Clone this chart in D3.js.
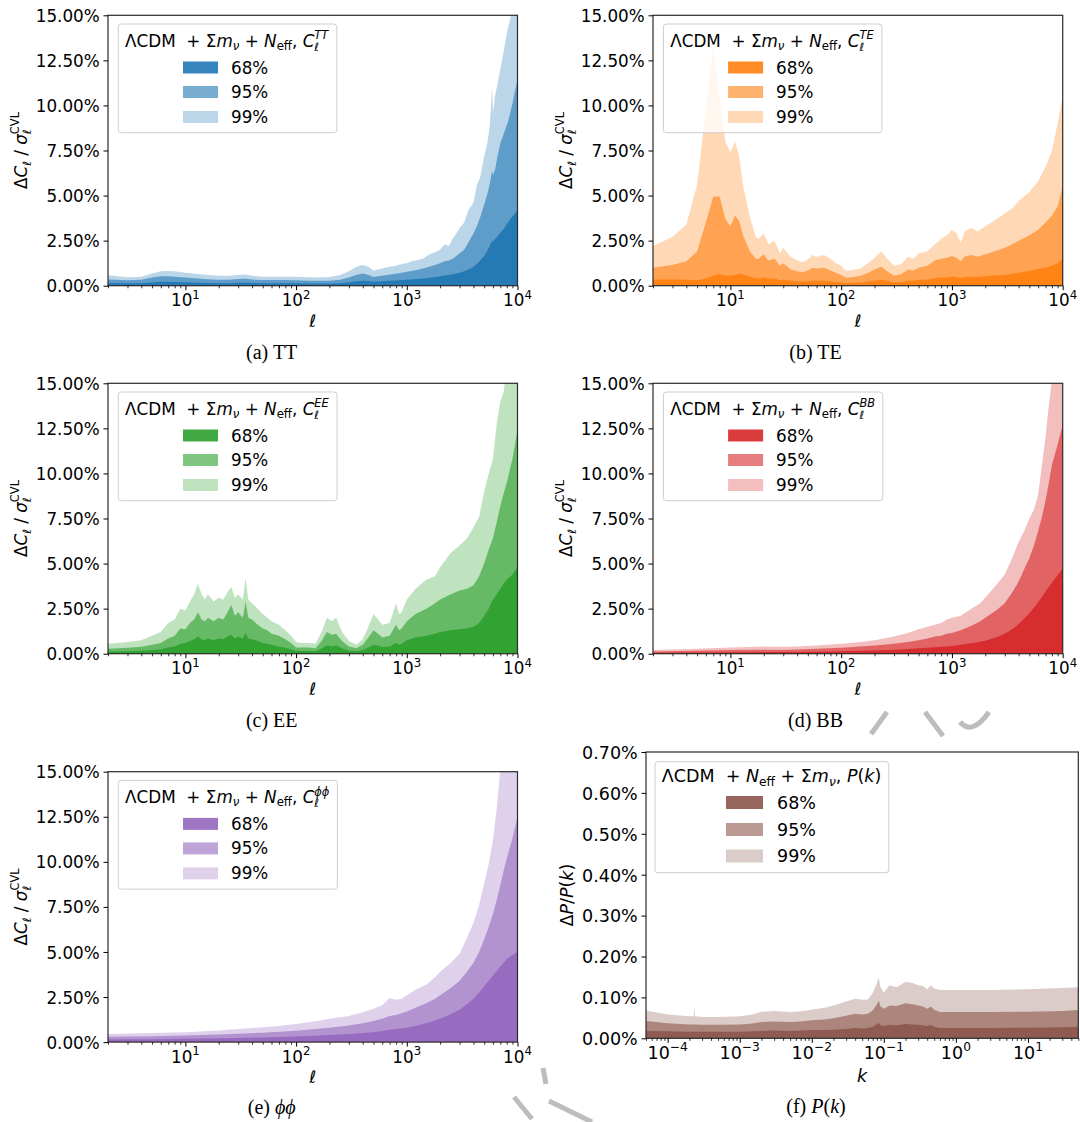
<!DOCTYPE html>
<html><head><meta charset="utf-8">
<script src="https://cdn.jsdelivr.net/npm/d3@7"></script>
<style>body{margin:0;background:#fff} svg{display:block} text{white-space:pre}</style>
</head><body>
<script>
// ---------------- DATA ----------------
const bandLabels = ["68%", "95%", "99%"];
const clYTicks = [0, 2.5, 5, 7.5, 10, 12.5, 15];
const pkYTicks = [0, 0.1, 0.2, 0.3, 0.4, 0.5, 0.6, 0.7];
const clXTicks = [10, 100, 1000, 10000];
const pkXTicks = [1e-4, 1e-3, 1e-2, 1e-1, 1, 10];

// TT
const ttEll = [2,3,4,5,6,7,8,10,13,16,20,25,30,35,40,50,60,80,100,130,160,200,250,300,350,400,450,500,600,700,800,900,1000,1100,1200,1400,1600,1800,2000,2200,2400,2600,2800,3000,3300,3600,4000,4300,4600,5000,5300,5600,5900,6000,6300,6600,7000,7400,7800,8200,8600,9000,9500,10000];
const tt99 = [0.58,0.47,0.5,0.68,0.8,0.82,0.8, 0.72,0.65,0.6,0.55,0.55,0.6,0.62,0.55, 0.5,0.5,0.5,0.5,0.47,0.45,0.48, 0.6,0.8,1.05,1.15,1.05,0.85, 0.95,1.05,1.1,1.2,1.25, 1.35,1.4,1.5,1.75,1.85,2.0, 2.3,2.2,2.6,2.9,3.2, 3.5,4.2,4.6,5.6,6.0,7.2, 7.8,8.8,11.0,9.6,10.6,11.2,12.0, 12.8,13.6,14.3,14.8,15.5,16,16];
const tt95 = [0.35,0.3,0.33,0.45,0.52,0.52,0.5, 0.45,0.4,0.36,0.33,0.33,0.37,0.38,0.34, 0.32,0.32,0.32,0.3,0.28,0.27,0.28, 0.33,0.45,0.6,0.67,0.6,0.48, 0.55,0.62,0.66,0.72,0.78, 0.82,0.86,0.95,1.05,1.15,1.25, 1.35,1.4,1.5,1.65,1.8, 2.0,2.4,2.9,3.3,3.8,4.5, 5.0,5.6,6.4,6.1,6.5,7.2,7.9, 8.3,8.7,9.1,9.6,10.1,10.8,11.4];
const tt68 = [0.15,0.13,0.14,0.18,0.22,0.22,0.21, 0.19,0.17,0.15,0.14,0.14,0.16,0.16,0.15, 0.14,0.14,0.14,0.13,0.12,0.12,0.12, 0.14,0.19,0.25,0.28,0.26,0.22, 0.24,0.27,0.29,0.31,0.33, 0.35,0.37,0.4,0.44,0.48,0.52, 0.56,0.6,0.64,0.68,0.72, 0.8,0.9,1.05,1.2,1.4,1.65, 1.9,2.2,2.5,2.45,2.6,2.75,2.95, 3.1,3.3,3.5,3.7,3.85,4.0,4.2];

// TE
const teEll = [2,3,4,5,6,7,8,9,10,11,12,13,15,17,18,20,22,25,28,30,35,40,45,50,55,60,70,80,90,100,110,120,150,180,200,230,260,300,350,400,450,500,600,700,800,900,1000,1100,1200,1300,1500,1700,2000,2400,3000,3500,4000,5000,6000,7000,8000,9000,10000];
const te99 = [2.2,2.7,3.4,5.6,9.8,13.3,10.5,8.0,7.4,8.0,7.2,5.6, 3.8,2.7,2.6,2.9,2.3,2.5,1.8,2.1, 1.6,1.4,1.3,1.45,1.7,1.6,1.7,1.5,1.25,1.1, 0.85,0.85,0.95,1.3,1.55,1.9,1.5,1.1, 1.2,1.6,1.5,1.8,1.9,2.3,2.6,2.8,3.1, 2.9,2.4,3.0,3.2,3.0,3.3,3.6, 4.0,4.3,4.7,5.2,5.8,6.6,7.5,9.0,10.5];
const te95 = [1.0,1.15,1.35,1.9,3.5,4.95,4.95,3.7,3.3,3.9,3.6,2.8, 1.9,1.5,1.5,1.75,1.4,1.5,1.1,1.25, 0.9,0.8,0.75,0.85,1.0,0.95,1.0,0.85,0.7,0.6, 0.45,0.45,0.55,0.75,0.9,1.05,0.8,0.55, 0.65,0.9,0.85,1.0,1.1,1.4,1.5,1.55,1.65, 1.55,1.35,1.6,1.7,1.6,1.75,1.9, 2.1,2.3,2.5,2.8,3.1,3.5,3.9,4.4,5.5];
const te68 = [0.35,0.35,0.33,0.3,0.4,0.55,0.65,0.55,0.55,0.6,0.68,0.62, 0.5,0.42,0.4,0.45,0.38,0.4,0.3,0.33, 0.27,0.25,0.22,0.25,0.28,0.27,0.28,0.25,0.2,0.18, 0.15,0.15,0.18,0.24,0.28,0.33,0.27,0.18, 0.2,0.28,0.27,0.33,0.35,0.42,0.45,0.45,0.5, 0.48,0.42,0.48,0.5,0.48,0.52,0.56, 0.6,0.66,0.72,0.82,0.92,1.0,1.1,1.25,1.5];

// EE
const eeEll = [2,3,4,5,6,7,8,9,10,11,12,13,14,15,16,18,20,22,24,26,28,30,33,35,37,40,45,50,55,60,70,80,90,100,110,130,150,170,190,210,230,260,300,350,400,450,500,550,600,700,800,850,900,1000,1200,1500,1800,2000,2500,3000,3500,4000,4500,5000,5500,6000,6500,7000,7500,8000,9000,10000];
const ee99 = [0.55,0.65,0.75,1.0,1.2,1.7,1.9,2.5,2.4,2.9,3.3,3.9,3.3,3.0,3.3, 2.9,3.1,3.0,3.4,3.7,3.1,3.3,3.0,4.2,3.0, 2.8,2.5,2.2,2.0,1.8,1.6,1.3,1.0,0.65, 0.6,0.6,0.55,1.2,2.0,1.8,2.0,1.2,0.7, 0.5,0.8,1.5,2.2,1.9,1.6,1.7,2.8,2.2,2.3,3.0, 3.6,4.1,4.3,4.8,5.6,6.0, 6.4,7.0,7.6,9.0,10.0,10.8,12.8,14.0,14.5,16,16,16];
const ee95 = [0.28,0.33,0.38,0.5,0.6,0.85,1.0,1.4,1.35,1.7,1.9,2.3,1.9,1.8,2.0, 1.8,2.0,1.9,2.3,2.7,2.1,2.3,2.0,2.9,2.0, 1.9,1.6,1.4,1.3,1.1,1.0,0.8,0.6,0.35, 0.35,0.35,0.3,0.7,1.2,1.05,1.1,0.7,0.4, 0.3,0.5,0.9,1.3,1.1,0.9,1.0,1.6,1.3,1.4,1.8, 2.2,2.5,2.8,3.0,3.3,3.5, 3.6,3.8,4.3,5.0,5.8,6.4,7.3,8.2,8.9,9.5,10.8,12.4];
const ee68 = [0.12,0.14,0.16,0.2,0.25,0.35,0.4,0.55,0.6,0.7,0.8,0.95,0.8,0.75,0.85, 0.75,0.85,0.8,0.95,1.05,0.85,0.95,0.85,1.15,0.85, 0.8,0.7,0.6,0.55,0.5,0.4,0.33,0.25,0.15, 0.15,0.15,0.13,0.3,0.45,0.42,0.45,0.3,0.17, 0.13,0.2,0.35,0.5,0.45,0.37,0.4,0.6,0.5,0.55,0.75, 0.9,1.0,1.1,1.2,1.3,1.35, 1.4,1.5,1.7,2.1,2.5,3.0,3.3,3.6,3.9,4.1,4.4,4.8];

// BB
const bbEll = [2,5,10,20,30,40,60,100,150,200,300,400,500,600,700,800,900,1000,1200,1500,1800,2000,2500,3000,3500,4000,4500,5000,5500,6000,6500,7000,7500,8000,9000,10000];
const bb99 = [0.2,0.28,0.35,0.4,0.38,0.4,0.45,0.55,0.65,0.75, 0.95,1.15,1.35,1.5,1.6,1.7,1.9,2.0,2.1,2.5, 2.8,3.1,3.8,4.4,5.3,6.2,6.8,7.5,8.0,8.8, 10.5,12.0,13.8,15.2,16,16];
const bb95 = [0.12,0.16,0.2,0.22,0.21,0.23,0.27,0.33,0.4,0.45, 0.55,0.65,0.75,0.85,0.95,1.0,1.1,1.15,1.3,1.55, 1.8,2.0,2.4,2.8,3.4,4.0,4.7,5.3,6.0,6.8, 7.6,8.5,9.5,10.5,11.6,12.7];
const bb68 = [0.05,0.07,0.08,0.09,0.09,0.1,0.11,0.13,0.16,0.18, 0.22,0.26,0.3,0.33,0.36,0.38,0.4,0.43,0.5,0.58, 0.66,0.72,0.9,1.1,1.35,1.65,1.95,2.25,2.55,2.85, 3.15,3.45,3.7,3.95,4.35,4.75];

// phi-phi
const ppEll = [2,5,10,20,30,50,70,100,150,200,300,400,500,600,700,800,900,1000,1200,1500,1800,2000,2500,3000,3500,4000,4500,5000,5500,6000,6500,7000,7500,8000,9000,10000];
const pp99 = [0.45,0.5,0.55,0.65,0.72,0.82,0.9,1.0,1.15,1.3, 1.45,1.65,1.85,2.05,2.45,2.35,2.4,2.6,2.9,3.2, 3.6,3.9,4.4,4.9,5.8,6.6,7.6,8.8,9.9,11.2, 13.0,15.2,16,16,16,16];
const pp95 = [0.3,0.32,0.36,0.42,0.46,0.52,0.57,0.63,0.72,0.8, 0.92,1.05,1.17,1.3,1.45,1.5,1.6,1.7,1.9,2.15, 2.4,2.6,3.0,3.4,3.9,4.4,5.0,5.7,6.4,7.1, 7.9,8.7,9.5,10.2,11.3,12.5];
const pp68 = [0.15,0.16,0.18,0.21,0.23,0.26,0.28,0.31,0.35,0.39, 0.45,0.5,0.55,0.62,0.68,0.72,0.76,0.8,0.9,1.05, 1.2,1.3,1.55,1.8,2.1,2.4,2.75,3.1,3.4,3.7, 3.95,4.2,4.4,4.6,4.85,5.0];

// P(k)
const pkK = [5e-5,1e-4,2e-4,2.3e-4,2.35e-4,2.4e-4,3e-4,5e-4,1e-3,1.5e-3,2e-3,3e-3,5e-3,7e-3,1e-2,1.5e-2,2e-2,3e-2,4e-2,5e-2,6e-2,7e-2,8e-2,8.5e-2,9e-2,0.1,0.12,0.15,0.2,0.25,0.3,0.35,0.4,0.45,0.5,0.6,1,3,10,30,50];
const pk99 = [0.068,0.058,0.054,0.054,0.078,0.054,0.052,0.052,0.054,0.058, 0.065,0.067,0.064,0.066,0.07,0.075,0.08,0.09,0.097,0.094, 0.095,0.11,0.135,0.148,0.125,0.112,0.13,0.125,0.138,0.135, 0.13,0.128,0.12,0.13,0.122,0.118,0.118,0.118,0.12,0.123,0.125];
const pk95 = [0.042,0.037,0.034,0.034,0.034,0.034,0.033,0.033,0.034,0.036, 0.04,0.041,0.04,0.041,0.044,0.046,0.049,0.055,0.06,0.058, 0.06,0.068,0.083,0.092,0.078,0.072,0.08,0.079,0.086,0.083, 0.08,0.078,0.072,0.078,0.07,0.064,0.064,0.064,0.065,0.067,0.069];
const pk68 = [0.018,0.017,0.016,0.016,0.016,0.016,0.016,0.016,0.016,0.017, 0.018,0.019,0.018,0.019,0.02,0.02,0.021,0.023,0.025,0.024, 0.025,0.028,0.035,0.038,0.032,0.03,0.033,0.032,0.035,0.034, 0.033,0.032,0.03,0.033,0.028,0.025,0.025,0.025,0.026,0.027,0.028];

// ---------------- DRAWING ----------------
const W = 1080, H = 1122;
const FONT = "DejaVu Sans", SERIF = "Liberation Serif";
const bandAlpha = [0.9, 0.6, 0.3]; // 68, 95, 99
const svg = d3.select("body").append("svg").attr("width", W).attr("height", H);
svg.append("rect").attr("width", W).attr("height", H).attr("fill", "#fff");

function mathText(parent, x, y, segs, size, anchor, family) {
  const t = parent.append("text").attr("x", x).attr("y", y)
    .attr("font-family", family || FONT).attr("font-size", size)
    .attr("fill", "#000").attr("text-anchor", anchor || "start");
  let shift = 0, prevW = 0;
  segs.forEach(s => {
    const sh = s.sh || 0;
    const ts = t.append("tspan").text(s.t).attr("font-size", size * (s.sz || 1));
    if (s.it) ts.attr("font-style", "italic");
    const dy = (sh - shift) * size;
    if (dy) ts.attr("dy", dy);
    shift = sh;
    let dx = 0;
    if (s.stack) dx -= prevW;
    if (s.dx) dx += s.dx * size;
    if (dx) ts.attr("dx", dx);
    prevW = ts.node().getComputedTextLength();
  });
  return t;
}

const SUB = 0.2, SUP = -0.45;
function clTitle(spec) {
  return [
    {t: "ΛCDM"}, {t: "  + "}, {t: "Σ"}, {t: "m", it: 1}, {t: "ν", it: 1, sz: 0.7, sh: SUB},
    {t: " + "}, {t: "N", it: 1}, {t: "eff", sz: 0.7, sh: SUB}, {t: ", "},
    {t: "C", it: 1}, {t: "ℓ", it: 1, sz: 0.68, sh: SUB + 0.05}, {t: spec, it: 1, sz: 0.68, sh: SUP, stack: 1}
  ];
}
const clYLabel = [
  {t: "Δ"}, {t: "C", it: 1}, {t: "ℓ", it: 1, sz: 0.68, sh: SUB + 0.05}, {t: " / "},
  {t: "σ", it: 1}, {t: "ℓ", it: 1, sz: 0.68, sh: SUB + 0.05}, {t: "CVL", sz: 0.68, sh: SUP, stack: 1}
];
const pkYLabel = [{t: "Δ"}, {t: "P", it: 1}, {t: "/"}, {t: "P", it: 1}, {t: "("}, {t: "k", it: 1}, {t: ")"}];
const pkTitle = [
  {t: "ΛCDM"}, {t: "  + "}, {t: "N", it: 1}, {t: "eff", sz: 0.7, sh: SUB}, {t: " + "},
  {t: "Σ"}, {t: "m", it: 1}, {t: "ν", it: 1, sz: 0.7, sh: SUB}, {t: ", "},
  {t: "P", it: 1}, {t: "("}, {t: "k", it: 1}, {t: ")"}
];

function logMinor(lo, hi) {
  const out = [];
  for (let e = Math.floor(Math.log10(lo)); e <= Math.ceil(Math.log10(hi)); e++) {
    for (let m = 2; m <= 9; m++) {
      const v = m * Math.pow(10, e);
      if (v >= lo * 0.9999 && v <= hi * 1.0001) out.push(v);
    }
  }
  return out;
}

function drawPanel(c) {
  const g = svg.append("g");
  const x = d3.scaleLog().domain(c.xDom).range([c.l, c.r]);
  const y = d3.scaleLinear().domain([0, c.yMax]).range([c.b, c.t]);
  const cid = "clip" + c.id;
  svg.append("clipPath").attr("id", cid).append("rect")
    .attr("x", c.l).attr("y", c.t).attr("width", c.r - c.l).attr("height", c.b - c.t);
  const plot = g.append("g").attr("clip-path", `url(#${cid})`);
  [2, 1, 0].forEach(i => {
    const vals = c.bands[i];
    const pts = c.xs.map((xv, j) => [xv, vals[j]]);
    const area = d3.area().x(d => x(d[0])).y0(y(0)).y1(d => y(d[1]));
    plot.append("path").attr("d", area(pts)).attr("fill", c.color).attr("fill-opacity", bandAlpha[i]);
  });
  g.append("rect").attr("x", c.l).attr("y", c.t).attr("width", c.r - c.l).attr("height", c.b - c.t)
    .attr("fill", "none").attr("stroke", "#2a2a2a").attr("stroke-width", 1.2);
  const ya = g.append("g").attr("transform", `translate(${c.l},0)`)
    .call(d3.axisLeft(y).tickValues(c.yTicks).tickSize(4.5).tickPadding(3.8)
      .tickFormat(v => d3.format(".2f")(v) + "%"));
  ya.select(".domain").remove();
  ya.selectAll("line").attr("stroke", "#000").attr("stroke-width", 1);
  ya.selectAll("text").attr("font-family", FONT).attr("font-size", c.fs).attr("fill", "#000").attr("dy", "0.36em");
  const xa = g.append("g").attr("transform", `translate(0,${c.b})`)
    .call(d3.axisBottom(x).tickValues(c.xTicks).tickSize(4.5).tickFormat(""));
  xa.select(".domain").remove();
  xa.selectAll("line").attr("stroke", "#000").attr("stroke-width", 1);
  const xm = g.append("g").attr("transform", `translate(0,${c.b})`)
    .call(d3.axisBottom(x).tickValues(logMinor(c.xDom[0], c.xDom[1])).tickSize(2.6).tickFormat(""));
  xm.select(".domain").remove();
  xm.selectAll("line").attr("stroke", "#000").attr("stroke-width", 0.8);
  c.xTicks.forEach(v => {
    const e = Math.round(Math.log10(v));
    const es = e < 0 ? "−" + (-e) : String(e);
    mathText(g, x(v), c.b + c.xlabOff, [{t: "10"}, {t: es, sz: 0.7, sh: -0.45}], c.fs, "middle");
  });
  mathText(g, (c.l + c.r) / 2, c.b + c.xtitleOff, [{t: c.xName, it: 1}], c.fs, "middle");
  const yl = g.append("g").attr("transform", `translate(${c.ylabX},${(c.t + c.b) / 2}) rotate(-90)`);
  mathText(yl, 0, 0, c.yLabel, c.fs, "middle");
  const lg = g.append("g");
  const box = lg.append("rect").attr("x", c.legX).attr("y", c.legY).attr("height", c.legH)
    .attr("rx", 3).attr("fill", "#fff").attr("fill-opacity", 0.8).attr("stroke", "#cfcfcf").attr("stroke-width", 1);
  const tt = mathText(lg, c.legX + 6.8, c.legY + c.titleOff, c.title, c.fs, "start");
  const bb = tt.node().getBBox();
  box.attr("width", bb.x + bb.width - c.legX + 7.5);
  bandLabels.forEach((lab, i) => {
    const cy = c.legY + c.rowOff[i];
    lg.append("rect").attr("x", c.legX + c.patchOff).attr("y", cy - c.patchH / 2)
      .attr("width", c.patchW).attr("height", c.patchH).attr("fill", c.color).attr("fill-opacity", bandAlpha[i]);
    lg.append("text").attr("x", c.legX + c.textOff).attr("y", cy + 0.36 * c.fs)
      .attr("font-family", FONT).attr("font-size", c.fs).attr("fill", "#000").text(lab);
  });
  mathText(svg, c.capX, c.capY, c.caption, 20, "middle", SERIF);
}

const base = {xDom: [2, 10000], yMax: 15, yTicks: clYTicks, xTicks: clXTicks, fs: 16.8,
  xlabOff: 20.5, xtitleOff: 41.3, xName: "ℓ", yLabel: clYLabel, legH: 108.7, titleOff: 22.7,
  rowOff: [43.5, 68, 93], patchOff: 64.7, patchW: 35, patchH: 12, textOff: 112.7};
const L = {l: 108, r: 517.5, ylabX: 27, legX: 118.3, capX: 271.7};
const R = {l: 653, r: 1062.7, ylabX: 572, legX: 663.4, capX: 815.5};
const rows = [{t: 15.3, b: 285.7, legY: 24, capY: 359.3}, {t: 383.3, b: 653.7, legY: 392, capY: 726.5}, {t: 771.7, b: 1042.1, legY: 780.4, capY: 1114}];

const panels = [
  Object.assign({}, base, L, rows[0], {id: "a", xs: ttEll, bands: [tt68, tt95, tt99], color: "#1f77b4", title: clTitle("TT"), caption: [{t: "(a) TT"}]}),
  Object.assign({}, base, R, rows[0], {id: "b", xs: teEll, bands: [te68, te95, te99], color: "#ff7f0e", title: clTitle("TE"), caption: [{t: "(b) TE"}]}),
  Object.assign({}, base, L, rows[1], {id: "c", xs: eeEll, bands: [ee68, ee95, ee99], color: "#2ca02c", title: clTitle("EE"), caption: [{t: "(c) EE"}]}),
  Object.assign({}, base, R, rows[1], {id: "d", xs: bbEll, bands: [bb68, bb95, bb99], color: "#d62728", title: clTitle("BB"), caption: [{t: "(d) BB"}]}),
  Object.assign({}, base, L, rows[2], {id: "e", xs: ppEll, bands: [pp68, pp95, pp99], color: "#9467bd", title: clTitle("ϕϕ"), caption: [{t: "(e) "}, {t: "ϕϕ", it: 1}]}),
  {id: "f", xs: pkK, bands: [pk68, pk95, pk99], color: "#8c564b", xDom: [5e-5, 50], yMax: 0.7, yTicks: pkYTicks, xTicks: pkXTicks,
    fs: 17.5, xlabOff: 20.8, xtitleOff: 44, xName: "k", yLabel: pkYLabel, l: 646, r: 1078.3, t: 752, b: 1038.3,
    ylabX: 573, legX: 655, legY: 761.7, legH: 111, titleOff: 20.3, rowOff: [40.8, 67.8, 94.3], patchOff: 71, patchW: 37, patchH: 13,
    textOff: 122, capX: 816, capY: 1113, title: pkTitle, caption: [{t: "(f) "}, {t: "P", it: 1}, {t: "("}, {t: "k", it: 1}, {t: ")"}]}
];
panels.forEach(drawPanel);

// faint grey watermark strokes seen in the scanned page
const wm = svg.append("g").attr("fill", "none").attr("stroke", "#bdbdbd").attr("stroke-width", 5).attr("stroke-linecap", "butt");
wm.append("path").attr("d", "M871,734 L887,712");
wm.append("path").attr("d", "M925,712 L943,736");
wm.append("path").attr("d", "M960,722 Q972,736 989,712");
wm.append("path").attr("d", "M543,1068 L546,1084");
wm.append("path").attr("d", "M549,1101 L592,1122");
wm.append("path").attr("d", "M514,1097 L532,1119");
</script>
</body></html>
